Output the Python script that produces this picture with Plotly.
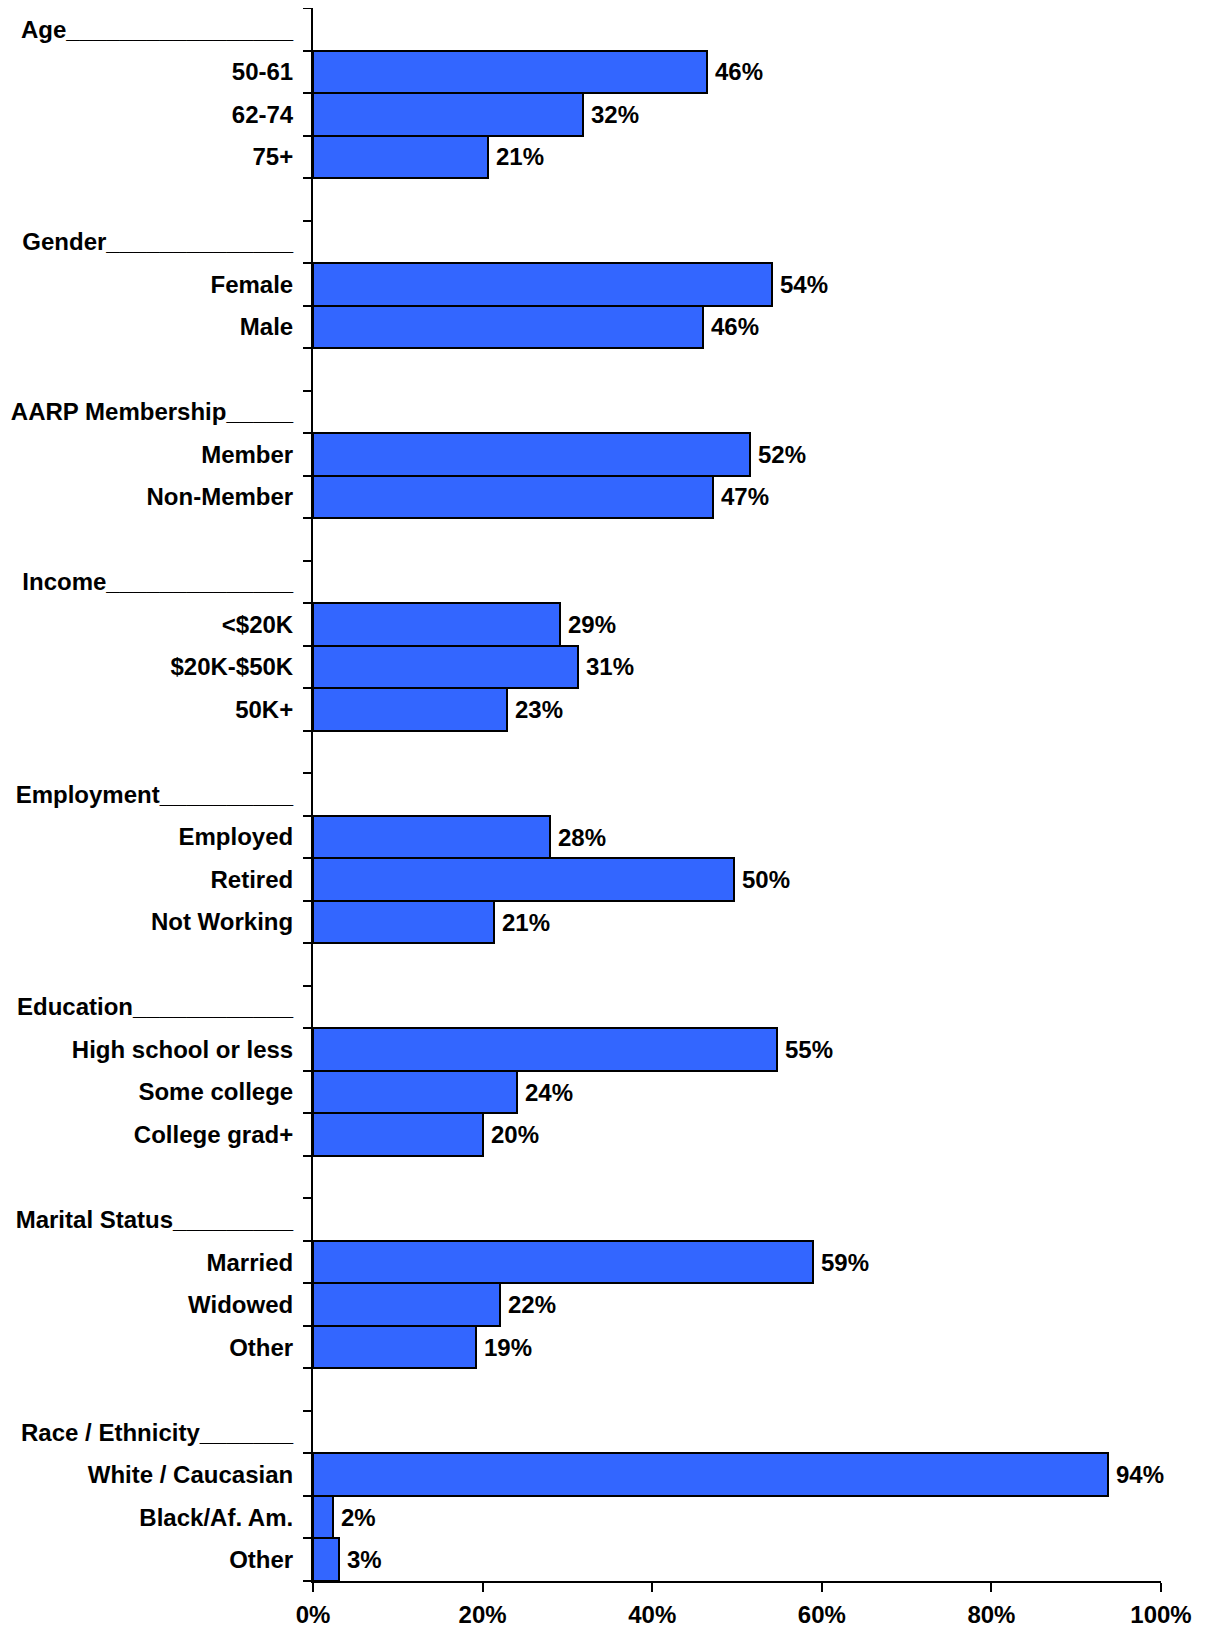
import plotly.graph_objects as go

# ---- data ----
header_labels = [
    "Age" + "_" * 17,
    "Gender" + "_" * 14,
    "AARP Membership" + "_" * 5,
    "Income" + "_" * 14,
    "Employment" + "_" * 10,
    "Education" + "_" * 12,
    "Marital Status" + "_" * 9,
    "Race / Ethnicity" + "_" * 7,
]

age_labels = ["50-61", "62-74", "75+"]
age_values = [46.5, 31.8, 20.6]
age_text = ["46%", "32%", "21%"]

gender_labels = ["Female", "Male"]
gender_values = [54.1, 46.0]
gender_text = ["54%", "46%"]

aarp_labels = ["Member", "Non-Member"]
aarp_values = [51.5, 47.2]
aarp_text = ["52%", "47%"]

income_labels = ["<$20K", "$20K-$50K", "50K+"]
income_values = [29.1, 31.3, 22.9]
income_text = ["29%", "31%", "23%"]

employment_labels = ["Employed", "Retired", "Not Working"]
employment_values = [27.9, 49.7, 21.4]
employment_text = ["28%", "50%", "21%"]

education_labels = ["High school or less", "Some college", "College grad+"]
education_values = [54.7, 24.0, 20.1]
education_text = ["55%", "24%", "20%"]

marital_labels = ["Married", "Widowed", "Other"]
marital_values = [59.0, 22.0, 19.2]
marital_text = ["59%", "22%", "19%"]

race_labels = ["White / Caucasian", "Black/Af. Am.", "Other"]
race_values = [93.8, 2.3, 3.1]
race_text = ["94%", "2%", "3%"]

x_tick_values = [0, 20, 40, 60, 80, 100]
x_tick_labels = ["0%", "20%", "40%", "60%", "80%", "100%"]

groups = [
    (header_labels[0], age_labels, age_values, age_text),
    (header_labels[1], gender_labels, gender_values, gender_text),
    (header_labels[2], aarp_labels, aarp_values, aarp_text),
    (header_labels[3], income_labels, income_values, income_text),
    (header_labels[4], employment_labels, employment_values, employment_text),
    (header_labels[5], education_labels, education_values, education_text),
    (header_labels[6], marital_labels, marital_values, marital_text),
    (header_labels[7], race_labels, race_values, race_text),
]

# ---- build rows ----
tickvals, ticktext = [], []
bar_y, bar_x, bar_txt = [], [], []
r = 0
for gi, (h, labs, vals, txts) in enumerate(groups):
    if gi > 0:
        r += 1  # blank spacer row
    tickvals.append(r)
    ticktext.append(h)
    r += 1
    for l, v, t in zip(labs, vals, txts):
        tickvals.append(r)
        ticktext.append(l)
        bar_y.append(r)
        bar_x.append(v)
        bar_txt.append(t)
        r += 1
n_rows = r
boundaries = [i - 0.5 for i in range(n_rows + 1)]

FONT = dict(family="Liberation Sans, Arial, sans-serif", size=24, color="black", weight="bold")

fig = go.Figure()
fig.add_trace(go.Bar(
    x=bar_x, y=bar_y, orientation="h", width=1,
    marker=dict(color="#3366FF", line=dict(color="black", width=2)),
    hoverinfo="skip",
))

for x, y, t in zip(bar_x, bar_y, bar_txt):
    fig.add_annotation(x=x, y=y, text=t, showarrow=False, xanchor="left",
                       yanchor="middle", xshift=6, font=FONT)

# page body has an 8px default margin, so the figure is sized to fit the window
fig.update_layout(
    width=1197, height=1621,
    margin=dict(l=305, r=44, t=0, b=48, autoexpand=False),
    plot_bgcolor="white", paper_bgcolor="white",
    font=FONT,
    showlegend=False,
    bargap=0,
    xaxis=dict(
        range=[0, 100], tickmode="array", tickvals=x_tick_values, ticktext=x_tick_labels,
        ticks="outside", ticklen=9, tickwidth=2, tickcolor="black",
        showline=True, linecolor="black", linewidth=2, automargin=False,
        showgrid=False, zeroline=False, tickfont=FONT, ticklabelstandoff=2,
    ),
    yaxis=dict(
        range=[n_rows - 0.5, -0.5], tickmode="array", tickvals=tickvals, ticktext=ticktext,
        ticks="", showline=True, linecolor="black", linewidth=2, automargin=False,
        showgrid=False, zeroline=False, tickfont=FONT, ticklabelstandoff=13,
        minor=dict(tickmode="array", tickvals=boundaries, ticks="outside",
                   ticklen=8, tickwidth=2, tickcolor="black", showgrid=False),
    ),
)

fig.write_html("out.html")
